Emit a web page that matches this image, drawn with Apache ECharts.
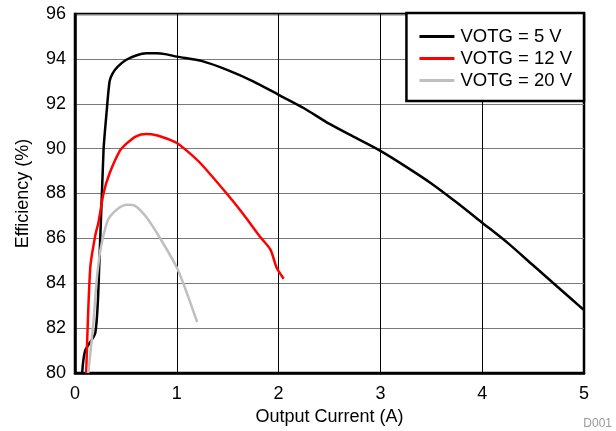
<!DOCTYPE html>
<html>
<head>
<meta charset="utf-8">
<script src="https://cdn.jsdelivr.net/npm/echarts@6/dist/echarts.min.js"></script>
<style>
  html, body { margin: 0; padding: 0; background: #fff; }
  #chart { width: 616px; height: 431px; }
</style>
</head>
<body>
<div id="chart"></div>
<script>
// VOTG = 5 V
const x5 = [0.07, 0.1, 0.2, 0.24, 0.28, 0.31, 0.34, 0.37, 0.42, 0.5, 0.6, 0.7, 0.8, 0.9, 1.0, 1.25, 1.5, 1.75, 2.0, 2.25, 2.5, 2.75, 3.0, 3.25, 3.5, 3.75, 4.0, 4.25, 4.5, 4.75, 5.0]
const y5 = [80.0, 81.0, 81.8, 85.0, 89.9, 91.6, 93.0, 93.35, 93.65, 93.95, 94.15, 94.25, 94.25, 94.2, 94.1, 93.9, 93.5, 93.0, 92.4, 91.8, 91.1, 90.5, 89.9, 89.2, 88.45, 87.6, 86.7, 85.8, 84.8, 83.8, 82.8]
// VOTG = 12 V
const x12 = [0.11, 0.15, 0.2, 0.23, 0.28, 0.34, 0.44, 0.5, 0.6, 0.7, 0.8, 0.9, 1.0, 1.1, 1.23, 1.49, 1.65, 1.82, 1.92, 1.98, 2.05]
const y12 = [80.0, 84.7, 86.15, 86.7, 88.0, 88.9, 89.9, 90.2, 90.55, 90.65, 90.6, 90.45, 90.25, 89.9, 89.36, 88.0, 87.1, 86.06, 85.5, 84.7, 84.2]
// VOTG = 20 V
const x20 = [0.13, 0.18, 0.21, 0.25, 0.3, 0.34, 0.43, 0.51, 0.59, 0.7, 0.83, 1.0, 1.1, 1.2]
const y20 = [80.0, 82.2, 84.0, 85.5, 86.5, 86.95, 87.35, 87.5, 87.45, 86.95, 86.05, 84.7, 83.55, 82.27]

const seriesNames = ['VOTG = 5 V', 'VOTG = 12 V', 'VOTG = 20 V']
const seriesColors = ['#000000', '#ff0000', '#bfbfbf']

const font = "'Liberation Sans', Arial, Helvetica, sans-serif"
const pairs = (xs, ys) => xs.map((x, i) => [x, ys[i]])

const chart = echarts.init(document.getElementById('chart'))

const lineSeries = (name, data, color) => ({
  name,
  type: 'line',
  data,
  showSymbol: false,
  symbol: 'none',
  smooth: 0.25,
  color,
  lineStyle: { color, width: 2.5 },
  animation: false
})

chart.setOption({
  animation: false,
  textStyle: { fontFamily: font },
  grid: {
    left: 75, right: 32, top: 14, bottom: 58,
    show: true,
    borderColor: '#000',
    borderWidth: 2.5,
    backgroundColor: 'transparent'
  },
  legend: {
    right: 32,
    top: 13,
    orient: 'vertical',
    icon: 'rect',
    itemWidth: 35,
    itemHeight: 3,
    itemGap: 3,
    padding: [14, 12, 11, 13],
    borderColor: '#000',
    borderWidth: 2.5,
    backgroundColor: '#fff',
    textStyle: { fontSize: 18.5, color: '#000', fontFamily: font, padding: [0, 0, 0, 1] },
    data: seriesNames
  },
  xAxis: {
    type: 'value',
    min: 0, max: 5, interval: 1,
    name: 'Output Current (A)',
    nameLocation: 'middle',
    nameGap: 32,
    nameTextStyle: { fontSize: 18, color: '#000', fontFamily: font },
    axisLine: { show: true, lineStyle: { color: '#000', width: 2.5 } },
    axisTick: { show: false },
    axisLabel: { fontSize: 18, color: '#000', margin: 12, fontFamily: font },
    splitLine: { show: true, lineStyle: { color: '#000', width: 1 } }
  },
  yAxis: {
    type: 'value',
    min: 80, max: 96, interval: 2,
    name: 'Efficiency (%)',
    nameLocation: 'middle',
    nameGap: 43,
    nameTextStyle: { fontSize: 18, color: '#000', fontFamily: font },
    axisLine: { show: true, lineStyle: { color: '#000', width: 2.5 } },
    axisTick: { show: false },
    axisLabel: { fontSize: 18, color: '#000', margin: 9, fontFamily: font },
    splitLine: { show: true, lineStyle: { color: '#7a7a7a', width: 1.2 } }
  },
  graphic: [{
    type: 'text',
    right: 4,
    top: 418,
    style: { text: 'D001', fill: '#9a9a9a', fontSize: 12, fontFamily: font }
  }],
  series: [
    lineSeries(seriesNames[0], pairs(x5, y5), seriesColors[0]),
    lineSeries(seriesNames[1], pairs(x12, y12), seriesColors[1]),
    lineSeries(seriesNames[2], pairs(x20, y20), seriesColors[2])
  ]
})
</script>
</body>
</html>
